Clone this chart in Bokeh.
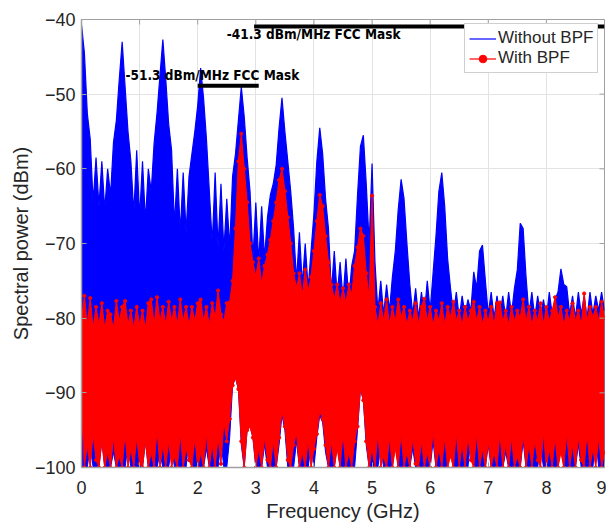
import numpy as np
from bokeh.plotting import figure
from bokeh.models import Range1d, Legend, LegendItem, FixedTicker, ColumnDataSource
from bokeh.core.properties import value
from bokeh.embed import file_html
from bokeh.resources import INLINE

# ---------------- data ----------------
freq_start_ghz = 0.0
freq_stop_ghz = 9.0
n_samples = 181  # one sample every 0.05 GHz

# "Without BPF": upper envelope (dBm), 0.00 .. 9.00 GHz
blue_hi = [
    -40.7, -44.5, -52.6, -56.0, -64.5, -58.5, -65.0, -59.0, -65.5, -60.0,
    -63.5, -56.5, -53.5, -48.0, -43.0, -49.0, -55.0, -59.0, -66.0, -57.5,
    -66.5, -59.0, -67.0, -60.0, -63.0, -56.5, -52.5, -47.5, -42.7, -48.0,
    -54.0, -57.5, -67.5, -60.0, -68.5, -60.5, -68.5, -61.0, -58.0, -55.0,
    -51.5, -46.5, -50.5, -56.0, -63.0, -70.0, -60.5, -70.5, -62.0, -71.0,
    -64.0, -70.5, -61.0, -58.0, -53.5, -49.0, -53.0, -58.5, -63.0, -72.0,
    -64.5, -72.5, -65.0, -72.0, -66.5, -63.5, -62.0, -59.5, -54.5, -50.5,
    -55.0, -59.0, -63.0, -68.0, -75.0, -68.5, -75.5, -70.0, -76.0, -71.0,
    -66.0, -59.0, -54.5, -58.0, -64.0, -68.0, -76.5, -71.0, -77.0, -72.5,
    -77.5, -72.0, -77.5, -73.0, -71.0, -63.5, -57.0, -55.5, -62.0, -70.0,
    -59.3, -72.5, -79.0, -75.0, -79.5, -75.5, -79.0, -74.5, -71.0, -65.5,
    -61.4, -64.0, -70.0, -75.5, -79.5, -76.0, -80.0, -76.5, -79.5, -75.0,
    -79.0, -74.0, -69.0, -63.0, -60.5, -65.0, -72.0, -76.0, -79.5, -76.5,
    -80.0, -77.0, -79.5, -77.5, -79.0, -73.8, -76.0, -71.0, -70.2, -75.0,
    -79.5, -76.5, -80.0, -77.0, -79.5, -77.0, -80.0, -76.5, -79.5, -76.0,
    -73.5, -67.3, -68.0, -74.5, -79.5, -76.5, -80.0, -77.0, -79.5, -77.5,
    -80.0, -76.5, -79.5, -77.5, -76.5, -73.4, -75.5, -75.8, -79.5, -77.0,
    -80.0, -76.5, -79.5, -77.0, -80.0, -76.5, -79.5, -77.0, -79.0, -76.5,
    -79.0,
]

# "Without BPF": lower envelope (dBm)
blue_lo = [
    -100, -100, -100, -97, -100, -100, -100, -96.5, -100, -100,
    -100, -98, -100, -100, -100, -100, -97, -100, -100, -100,
    -100, -100, -96.5, -100, -100, -100, -100, -98, -100, -100,
    -100, -97, -100, -100, -100, -100, -100, -96, -100, -100,
    -100, -100, -100, -97.5, -100, -100, -100, -100, -96.5, -100,
    -100, -96, -89, -88, -89.5, -97, -100, -95, -94.5, -96,
    -100, -100, -100, -97, -100, -100, -100, -100, -97, -93,
    -95, -100, -100, -100, -96.5, -100, -100, -100, -100, -97,
    -100, -96, -93, -94, -98, -100, -100, -100, -97, -100,
    -100, -100, -100, -100, -100, -95, -89.5, -91, -97, -100,
    -100, -100, -100, -97, -100, -100, -100, -100, -96.5, -100,
    -100, -100, -100, -100, -97.5, -100, -100, -100, -100, -100,
    -100, -96.5, -100, -100, -100, -100, -100, -97, -100, -100,
    -100, -100, -100, -100, -96, -100, -100, -100, -100, -100,
    -97, -100, -100, -100, -100, -100, -98, -100, -100, -100,
    -100, -100, -96.5, -100, -100, -100, -100, -100, -97, -100,
    -100, -100, -100, -100, -100, -96.5, -100, -100, -100, -100,
    -100, -97, -100, -100, -100, -100, -100, -96, -100, -100,
    -100,
]

# "With BPF": upper envelope (dBm)
red_hi = [
    -80.3, -77.0, -81.0, -77.3, -81.5, -78.5, -81.0, -78.0, -81.5, -79.0,
    -79.5, -81.5, -77.7, -80.5, -78.5, -77.7, -81.0, -79.0, -81.5, -78.5,
    -81.0, -79.0, -81.5, -78.0, -77.5, -81.0, -77.2, -80.5, -78.5, -81.0,
    -77.8, -80.5, -78.5, -81.0, -77.5, -80.5, -78.5, -81.0, -78.5, -80.5,
    -78.0, -77.5, -80.5, -78.5, -81.0, -78.0, -80.0, -76.3, -79.5, -80.5,
    -78.0, -77.9, -75.0, -68.0, -59.0, -55.3, -60.0, -64.5, -70.0, -72.5,
    -74.5, -72.0, -75.5, -73.0, -71.5, -69.5, -67.0, -64.5, -61.5, -60.0,
    -63.0, -66.5, -70.0, -74.0, -76.0, -74.0, -77.0, -73.5, -76.5, -74.5,
    -71.0, -67.0, -63.5, -65.0, -69.0, -72.5, -75.5, -77.5, -75.5, -78.0,
    -76.0, -78.0, -75.5, -77.0, -73.0, -70.5, -68.0, -69.0, -74.0, -77.5,
    -63.6, -78.5, -81.0, -78.0, -80.5, -77.5, -81.0, -78.5, -80.5, -77.5,
    -80.0, -78.5, -81.0, -79.0, -80.5, -78.0, -81.0, -78.5, -77.4, -80.5,
    -78.5, -81.0, -79.0, -80.5, -78.0, -81.0, -78.5, -80.0, -77.8, -80.5,
    -79.0, -81.0, -78.5, -80.5, -79.0, -77.8, -80.5, -78.5, -81.0, -79.0,
    -80.5, -78.5, -81.0, -78.0, -77.9, -80.5, -79.0, -81.0, -78.5, -80.5,
    -79.0, -80.0, -77.5, -80.5, -78.5, -81.0, -79.0, -80.5, -78.0, -81.0,
    -78.5, -80.5, -79.0, -77.2, -80.0, -78.5, -81.0, -79.0, -80.5, -78.0,
    -80.5, -79.0, -81.0, -76.7, -80.5, -78.5, -80.0, -78.5, -80.5, -77.8,
    -80.0,
]

# "With BPF": lower envelope (dBm)
red_lo = [
    -92.0, -100, -97.0, -100, -95.5, -99.0, -100, -96.5, -100, -98.0,
    -100, -96.0, -100, -98.5, -100, -95.5, -100, -97.5, -100, -96.0,
    -99.5, -100, -96.5, -100, -98.0, -100, -95.0, -100, -97.0, -100,
    -96.5, -100, -98.5, -100, -95.5, -100, -97.5, -99.0, -100, -96.0,
    -100, -98.0, -100, -95.5, -100, -97.0, -100, -96.0, -99.5, -94.0,
    -96.5, -93.5, -89.0, -88.0, -89.5, -96.5, -100, -95.0, -94.5, -96.0,
    -100, -97.5, -100, -96.0, -99.0, -100, -96.5, -100, -96.0, -92.5,
    -94.5, -99.0, -100, -97.0, -95.5, -100, -98.0, -100, -96.5, -100,
    -97.5, -95.5, -92.5, -93.5, -97.0, -100, -96.5, -100, -97.5, -100,
    -95.5, -100, -98.0, -100, -96.5, -94.5, -89.5, -91.0, -96.5, -100,
    -97.5, -100, -95.5, -100, -98.5, -100, -96.0, -100, -97.5, -100,
    -95.5, -100, -98.0, -100, -96.0, -99.5, -100, -96.5, -100, -98.0,
    -100, -95.0, -100, -97.5, -100, -96.0, -100, -98.5, -100, -95.5,
    -100, -97.0, -100, -96.0, -99.0, -100, -95.5, -100, -97.5, -100,
    -96.5, -100, -98.0, -100, -95.5, -100, -97.0, -100, -96.0, -100,
    -98.5, -100, -95.5, -100, -97.0, -100, -96.5, -99.0, -100, -95.5,
    -100, -97.5, -100, -96.0, -100, -98.0, -100, -95.5, -100, -97.0,
    -100, -96.0, -99.0, -100, -95.5, -100, -97.5, -100, -96.0, -100,
    -98.0,
]

# FCC mask lines (as drawn)
mask_high_x = [2.97, 9.0]
mask_high_y = [-40.94, -40.94]
mask_low_x = [2.0, 3.05]
mask_low_y = [-48.88, -48.88]
mask_high_label = "-41.3 dBm/MHz FCC Mask"
mask_low_label = "-51.3 dBm/MHz FCC Mask"

x_ticks = [0, 1, 2, 3, 4, 5, 6, 7, 8, 9]
y_ticks = [-100, -90, -80, -70, -60, -50, -40]
y_tick_labels = ["\u2212100", "\u221290", "\u221280", "\u221270", "\u221260", "\u221250", "\u221240"]

series_names = ["Without BPF", "With BPF"]

# ---------------- plot ----------------
freq = np.linspace(freq_start_ghz, freq_stop_ghz, n_samples)
src = ColumnDataSource(dict(f=freq, bhi=blue_hi, blo=blue_lo, rhi=red_hi, rlo=red_lo))

FONT = "Liberation Sans"
MASK_FONT = "DejaVu Sans Condensed"
TXT = "#262626"
AX = "#a0a0a0"

x_lo, x_hi = x_ticks[0], x_ticks[-1]
y_lo, y_hi = y_ticks[0], y_ticks[-1]

p = figure(width=606, height=525, output_backend="svg", toolbar_location=None,
           x_range=Range1d(x_lo, x_hi), y_range=Range1d(y_lo, y_hi))
p.min_border_left = 81
p.min_border_right = 2
p.min_border_top = 19
p.min_border_bottom = 58
p.background_fill_color = "white"
p.border_fill_color = "white"
p.outline_line_color = AX
p.outline_line_width = 1

for ax in (p.xaxis[0], p.yaxis[0]):
    ax.major_label_text_font = FONT
    ax.major_label_text_font_size = "18px"
    ax.major_label_text_color = TXT
    ax.axis_label_text_font = FONT
    ax.axis_label_text_font_size = "20px"
    ax.axis_label_text_font_style = "normal"
    ax.axis_label_text_color = TXT
    ax.axis_line_color = AX
    ax.axis_line_width = 1.5
    ax.major_tick_line_color = AX
    ax.major_tick_in = 5
    ax.major_tick_out = 0
    ax.minor_tick_line_color = None

p.xaxis.ticker = FixedTicker(ticks=x_ticks)
p.yaxis.ticker = FixedTicker(ticks=y_ticks)
p.yaxis.major_label_overrides = {t: s for t, s in zip(y_ticks, y_tick_labels)}
p.xaxis.axis_label = "Frequency (GHz)"
p.yaxis.axis_label = "Spectral power (dBm)"
p.xaxis.major_label_standoff = 13
p.xaxis.axis_label_standoff = 3
p.yaxis.major_label_standoff = 6
p.yaxis.axis_label_standoff = 0

p.xgrid.ticker = FixedTicker(ticks=x_ticks)
p.ygrid.ticker = FixedTicker(ticks=y_ticks)
p.xgrid.grid_line_color = "#e3e3e3"
p.ygrid.grid_line_color = "#e3e3e3"

BLUE = "#0000ff"
RED = "#ff0000"

p.varea(x="f", y1="blo", y2="bhi", source=src, fill_color=BLUE)
blue_line = p.line("f", "bhi", source=src, line_color=BLUE, line_width=1.2)
p.line("f", "blo", source=src, line_color=BLUE, line_width=1)

p.varea(x="f", y1="rlo", y2="rhi", source=src, fill_color=RED)
red_line = p.line("f", "rhi", source=src, line_color=RED, line_width=1.2)
p.line("f", "rlo", source=src, line_color=RED, line_width=1)
red_dots = p.scatter("f", "rhi", source=src, size=3.2, color=RED)
p.scatter("f", "rlo", source=src, size=3.2, color=RED)

# inward tick marks on the top and right edges of the box (MATLAB style)
p.scatter(x=x_ticks, y=[y_hi] * len(x_ticks), marker="dash", angle=np.pi / 2, size=10,
          line_color=AX, line_width=1)
p.scatter(x=[x_hi] * len(y_ticks), y=y_ticks, marker="dash", size=10, line_color=AX, line_width=1)

p.line(mask_high_x, mask_high_y, line_color="black", line_width=4)
p.line(mask_low_x, mask_low_y, line_color="black", line_width=4)
p.text(x=[2.50], y=[-41.95], text=[mask_high_label], text_font=value(MASK_FONT),
       text_font_style="bold", text_font_size="13.5px", text_baseline="middle", text_align="left",
       text_color="black")
p.text(x=[0.757], y=[-47.45], text=[mask_low_label], text_font=value(MASK_FONT),
       text_font_style="bold", text_font_size="13.5px", text_baseline="middle", text_align="left",
       text_color="black")

legend = Legend(items=[LegendItem(label=series_names[0], renderers=[blue_line]),
                       LegendItem(label=series_names[1], renderers=[red_line, red_dots])],
                location=(383, 394))
legend.label_text_font = FONT
legend.label_text_font_size = "17px"
legend.label_text_color = TXT
legend.glyph_width = 27
legend.glyph_height = 19
legend.label_height = 19
legend.label_standoff = 2
legend.padding = 4
legend.spacing = 0
legend.margin = 0
legend.border_line_color = AX
legend.border_line_width = 1
legend.background_fill_color = "white"
legend.background_fill_alpha = 1
p.add_layout(legend)

open("out.html", "w").write(file_html(p, INLINE))
